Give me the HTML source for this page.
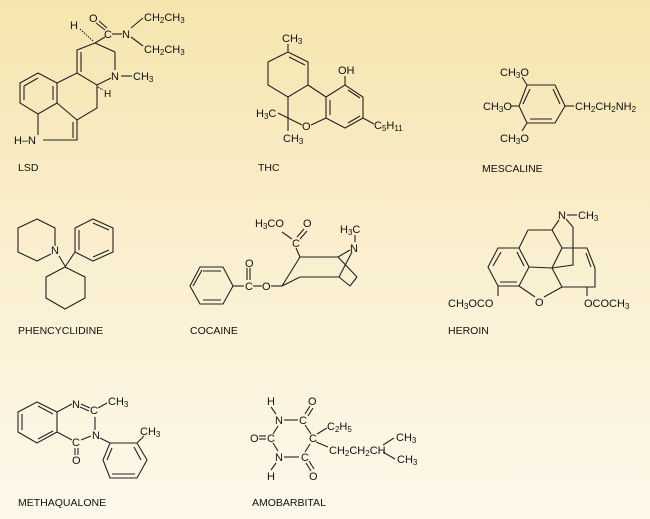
<!DOCTYPE html>
<html><head><meta charset="utf-8"><style>
html,body{margin:0;padding:0;}
body{width:650px;height:519px;overflow:hidden;background:linear-gradient(#f6e5ae,#fbf1d6 60%,#fdf8ea);}
svg{display:block}
text{font-family:"Liberation Sans",sans-serif;font-size:11px;fill:#111;}
.l{font-size:10.5px;}
line,polyline,polygon{stroke:#222;stroke-width:1.1;fill:none;}
</style></head><body>
<svg width="650" height="519" viewBox="0 0 650 519">
<!-- LSD -->
<polygon points="20,83 38,73 57,83 57,103 38,114 20,103"/>
<line x1="24" y1="86" x2="38" y2="78"/><line x1="53" y1="86" x2="53" y2="100"/><line x1="24" y1="100" x2="24" y2="86"/>
<polyline points="57,83 77,73 97,85 97,108 77,120 57,103"/>
<polyline points="77,120 77,140 43,140"/><line x1="73" y1="122" x2="73" y2="138"/>
<line x1="38" y1="114" x2="38" y2="135"/>
<text x="14" y="144">H–N</text>
<polyline points="77,73 77,50 95,43 115,52 115,70"/><line x1="81" y1="52" x2="81" y2="72"/>
<line x1="97" y1="85" x2="111" y2="78"/>
<text x="111" y="80">N</text><line x1="121" y1="76" x2="132" y2="76"/><text x="133" y="80">CH<tspan font-size="8" dy="2">3</tspan></text>
<text x="104" y="97" style="font-size:10px">H</text><line x1="98" y1="87" x2="103" y2="90" stroke-dasharray="1.5,1"/>
<text x="70" y="29">H</text><line x1="80" y1="29" x2="93" y2="41" stroke-dasharray="1.5,1.2"/>
<line x1="95" y1="43" x2="105" y2="37"/>
<text x="104" y="38">C</text><line x1="112" y1="34" x2="122" y2="34"/>
<text x="89" y="22">O</text><line x1="96" y1="23" x2="105" y2="30"/><line x1="99" y1="21" x2="107" y2="28"/>
<text x="122" y="38">N</text>
<line x1="131" y1="28" x2="143" y2="18"/><line x1="131" y1="37" x2="143" y2="46"/>
<text x="144" y="21">CH<tspan font-size="8" dy="2">2</tspan><tspan dy="-2">CH</tspan><tspan font-size="8" dy="2">3</tspan></text>
<text x="144" y="53">CH<tspan font-size="8" dy="2">2</tspan><tspan dy="-2">CH</tspan><tspan font-size="8" dy="2">3</tspan></text>
<text class="l" x="18" y="171">LSD</text>

<!-- THC -->
<text x="282" y="42">CH<tspan font-size="8" dy="2">3</tspan></text>
<line x1="288" y1="44" x2="288" y2="52"/>
<polygon points="288,52 308,62 308,85 288,97 268,85 268,62"/>
<line x1="289" y1="57" x2="305" y2="65"/>
<polygon points="326,97 345,85 363,97 363,118 345,128 326,118"/>
<line x1="330" y1="100" x2="330" y2="115"/><line x1="348" y1="90" x2="360" y2="98"/><line x1="348" y1="123" x2="360" y2="116"/>
<line x1="308" y1="85" x2="326" y2="97"/>
<line x1="345" y1="85" x2="345" y2="76"/><text x="338" y="74">OH</text>
<line x1="363" y1="118" x2="374" y2="124"/><text x="374" y="129">C<tspan font-size="8" dy="2">5</tspan><tspan dy="-2">H</tspan><tspan font-size="8" dy="2">11</tspan></text>
<line x1="288" y1="97" x2="288" y2="118"/><line x1="288" y1="118" x2="302" y2="125"/><text x="302" y="130">O</text><line x1="311" y1="125" x2="326" y2="118"/>
<line x1="288" y1="118" x2="278" y2="113"/><text x="256" y="117">H<tspan font-size="8" dy="2">3</tspan><tspan dy="-2">C</tspan></text>
<line x1="288" y1="118" x2="288" y2="131"/><text x="283" y="142">CH<tspan font-size="8" dy="2">3</tspan></text>
<text class="l" x="258" y="171">THC</text>

<!-- MESCALINE -->
<polygon points="527,85 555,85 565,106 555,123 527,123 519,106"/>
<line x1="530" y1="89" x2="523" y2="104"/><line x1="553" y1="89" x2="560" y2="104"/><line x1="530" y1="119" x2="552" y2="119"/>
<line x1="527" y1="85" x2="522" y2="77"/><text x="500" y="76">CH<tspan font-size="8" dy="2">3</tspan><tspan dy="-2">O</tspan></text>
<line x1="519" y1="106" x2="511" y2="106"/><text x="483" y="110">CH<tspan font-size="8" dy="2">3</tspan><tspan dy="-2">O</tspan></text>
<line x1="527" y1="123" x2="522" y2="131"/><text x="500" y="142">CH<tspan font-size="8" dy="2">3</tspan><tspan dy="-2">O</tspan></text>
<line x1="565" y1="106" x2="574" y2="106"/><text x="575" y="110">CH<tspan font-size="8" dy="2">2</tspan><tspan dy="-2">CH</tspan><tspan font-size="8" dy="2">2</tspan><tspan dy="-2">NH</tspan><tspan font-size="8" dy="2">2</tspan></text>
<text class="l" x="482" y="172">MESCALINE</text>

<!-- PCP -->
<polyline points="55,246 55,228 37,219 18,228 18,252 37,261 51,254"/>
<text x="51" y="254">N</text>
<line x1="59" y1="256" x2="65" y2="266"/>
<polygon points="75,228 93,219 113,228 113,252 93,261 75,252"/>
<line x1="79" y1="230" x2="79" y2="250"/><line x1="93" y1="223" x2="109" y2="230"/><line x1="109" y1="250" x2="93" y2="257"/>
<line x1="65" y1="267" x2="75" y2="252"/>
<polygon points="65,267 85,277 85,298 65,309 46,298 46,277"/>
<text class="l" x="18" y="334">PHENCYCLIDINE</text>

<!-- COCAINE -->
<polygon points="200,267 223,267 233,286 223,304 200,304 190,286"/>
<line x1="203" y1="271" x2="221" y2="271"/><line x1="203" y1="300" x2="221" y2="300"/><line x1="193" y1="286" x2="202" y2="270"/>
<line x1="233" y1="286" x2="244" y2="286"/><text x="245" y="290">C</text><line x1="247" y1="268" x2="247" y2="280"/><line x1="250" y1="268" x2="250" y2="280"/><text x="245" y="267">O</text>
<line x1="253" y1="286" x2="262" y2="286"/><text x="262" y="290">O</text><line x1="271" y1="286" x2="282" y2="286"/>
<line x1="282" y1="286" x2="300" y2="257"/><line x1="282" y1="286" x2="300" y2="277"/>
<line x1="300" y1="257" x2="338" y2="257"/><line x1="300" y1="277" x2="339" y2="277"/>
<line x1="338" y1="257" x2="357" y2="277"/><line x1="357" y1="277" x2="350" y2="286"/><line x1="350" y1="286" x2="339" y2="277"/><line x1="339" y1="277" x2="352" y2="252"/>
<line x1="338" y1="257" x2="350" y2="250"/>
<text x="350" y="252">N</text><line x1="355" y1="235" x2="355" y2="242"/><text x="340" y="233">H<tspan font-size="8" dy="2">3</tspan><tspan dy="-2">C</tspan></text>
<line x1="300" y1="257" x2="296" y2="248"/><text x="292" y="247">C</text>
<line x1="282" y1="232" x2="292" y2="239"/>
<line x1="297" y1="237" x2="304" y2="229"/><line x1="300" y1="239" x2="307" y2="231"/>
<text x="255" y="227">H<tspan font-size="8" dy="2">3</tspan><tspan dy="-2">CO</tspan></text><text x="303" y="227">O</text>
<text class="l" x="190" y="334">COCAINE</text>

<!-- HEROIN -->
<polygon points="498,248 519,248 529,267 519,286 498,286 488,267"/>
<line x1="501" y1="252" x2="493" y2="266"/><line x1="500" y1="282" x2="517" y2="282"/><line x1="517" y1="252" x2="524" y2="266"/>
<polyline points="519,248 528,230 552,230 562,248 587,248 595,268 595,287 587,287 562,287 552,268 529,267"/>
<line x1="586" y1="253" x2="591" y2="267"/>
<line x1="552" y1="230" x2="559" y2="220"/><text x="558" y="219">N</text><line x1="567" y1="215" x2="577" y2="215"/><text x="578" y="219">CH<tspan font-size="8" dy="2">3</tspan></text>
<line x1="566" y1="219" x2="573" y2="227"/><polyline points="573,227 573,265 552,268"/>
<line x1="562" y1="248" x2="552" y2="268"/>
<line x1="519" y1="286" x2="535" y2="297"/><text x="535" y="306">O</text><line x1="544" y1="297" x2="562" y2="287"/>
<line x1="498" y1="286" x2="498" y2="296"/><text x="448" y="307">CH<tspan font-size="8" dy="2">3</tspan><tspan dy="-2">OCO</tspan></text>
<line x1="587" y1="287" x2="587" y2="296"/><text x="584" y="307">OCOCH<tspan font-size="8" dy="2">3</tspan></text>
<text class="l" x="448" y="334">HEROIN</text>

<!-- METHAQUALONE -->
<polygon points="18,412 37,402 57,412 57,432 37,443 18,432"/>
<line x1="22" y1="414" x2="22" y2="430"/><line x1="38" y1="406" x2="53" y2="414"/><line x1="38" y1="439" x2="53" y2="431"/>
<line x1="57" y1="412" x2="72" y2="404"/><text x="72" y="408">N</text>
<line x1="81" y1="404" x2="90" y2="408"/><line x1="80" y1="407" x2="89" y2="411"/>
<text x="90" y="414">C</text><line x1="98" y1="408" x2="107" y2="403"/><text x="108" y="405">CH<tspan font-size="8" dy="2">3</tspan></text>
<line x1="95" y1="417" x2="95" y2="430"/><text x="92" y="439">N</text>
<line x1="57" y1="432" x2="72" y2="440"/><text x="72" y="446">C</text><line x1="81" y1="440" x2="91" y2="436"/>
<line x1="75" y1="448" x2="75" y2="455"/><line x1="78" y1="448" x2="78" y2="455"/><text x="72" y="464">O</text>
<line x1="100" y1="438" x2="110" y2="443"/>
<polygon points="110,443 137,443 147,460 137,478 110,478 103,460"/>
<line x1="141" y1="460" x2="134" y2="447" /><line x1="112" y1="474" x2="135" y2="474"/><line x1="107" y1="460" x2="112" y2="448"/>
<line x1="137" y1="443" x2="144" y2="436"/><text x="140" y="435">CH<tspan font-size="8" dy="2">3</tspan></text>
<text class="l" x="18" y="506">METHAQUALONE</text>

<!-- AMOBARBITAL -->
<text x="267" y="405">H</text><line x1="271" y1="407" x2="276" y2="414"/>
<text x="275" y="424">N</text><line x1="284" y1="420" x2="298" y2="420"/><text x="299" y="424">C</text>
<line x1="305" y1="414" x2="310" y2="406"/><line x1="308" y1="416" x2="313" y2="408"/><text x="308" y="405">O</text>
<line x1="305" y1="425" x2="311" y2="434"/><text x="309" y="442">C</text>
<line x1="317" y1="434" x2="327" y2="428"/><text x="327" y="430">C<tspan font-size="8" dy="2">2</tspan><tspan dy="-2">H</tspan><tspan font-size="8" dy="2">5</tspan></text>
<line x1="316" y1="442" x2="328" y2="447"/><text x="329" y="454">CH<tspan font-size="8" dy="2">2</tspan><tspan dy="-2">CH</tspan><tspan font-size="8" dy="2">2</tspan><tspan dy="-2">CH</tspan></text>
<line x1="383" y1="445" x2="394" y2="438"/><line x1="383" y1="452" x2="395" y2="459"/>
<text x="396" y="441">CH<tspan font-size="8" dy="2">3</tspan></text><text x="397" y="463">CH<tspan font-size="8" dy="2">3</tspan></text>
<line x1="310" y1="444" x2="305" y2="452"/><text x="301" y="461">C</text>
<line x1="306" y1="463" x2="311" y2="471"/><line x1="309" y1="461" x2="314" y2="469"/><text x="309" y="480">O</text>
<line x1="284" y1="457" x2="299" y2="457"/><text x="275" y="461">N</text>
<line x1="276" y1="463" x2="271" y2="470"/><text x="267" y="480">H</text>
<line x1="278" y1="426" x2="273" y2="434"/><text x="267" y="442">C</text><line x1="273" y1="443" x2="278" y2="451"/>
<line x1="259" y1="436" x2="266" y2="436"/><line x1="259" y1="439" x2="266" y2="439"/><text x="250" y="442">O</text>
<text class="l" x="252" y="506">AMOBARBITAL</text>
</svg>
</body></html>
